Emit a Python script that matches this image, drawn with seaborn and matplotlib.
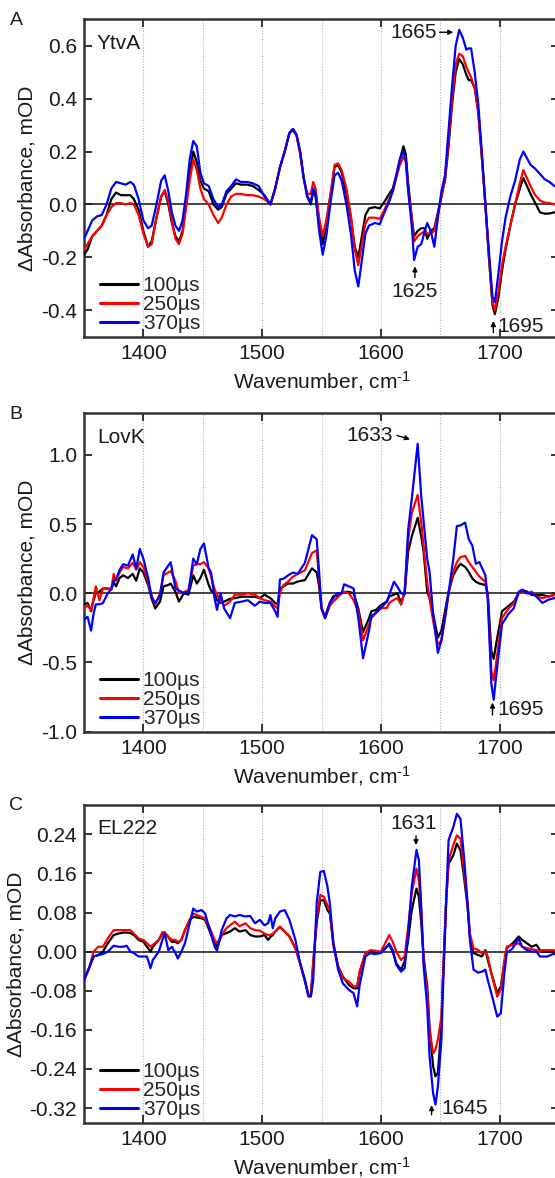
import numpy as np
import pandas as pd
import matplotlib
matplotlib.use("Agg")
import matplotlib.pyplot as plt
import seaborn as sns

# ---------------- data ----------------
delays = ["100µs", "250µs", "370µs"]
colors = ["black", "red", "blue"]

# Panel A: YtvA
wn_a = [1350, 1353, 1357, 1361, 1365, 1369, 1373, 1377, 1381, 1385, 1389, 1392, 1396, 1400,
        1404, 1407, 1411, 1415, 1418, 1421, 1424, 1427, 1430, 1433, 1436, 1439, 1442, 1445,
        1448, 1451, 1455, 1459, 1463, 1466, 1470, 1474, 1478, 1482, 1487, 1492, 1497, 1502,
        1507, 1511, 1515, 1519, 1523, 1526, 1529, 1532, 1535, 1538, 1541, 1543, 1545, 1548,
        1551, 1554, 1558, 1561, 1564, 1567, 1571, 1575, 1578, 1581, 1584, 1587, 1590, 1595,
        1599, 1603, 1607, 1610, 1613, 1616, 1619, 1621, 1623, 1626, 1628, 1631, 1634, 1637,
        1639, 1642, 1645, 1648, 1651, 1654, 1657, 1660, 1663, 1666, 1669, 1672, 1674, 1676,
        1679, 1682, 1685, 1688, 1691, 1694, 1696, 1699, 1702, 1705, 1709, 1713, 1717, 1720,
        1723, 1726, 1730, 1734, 1738, 1742, 1746, 1750]
a_100 = [-0.19, -0.17, -0.12, -0.10, -0.08, -0.04, 0.02, 0.045, 0.035, 0.035, 0.035, 0.02, -0.02, -0.10,
         -0.16, -0.14, -0.05, 0.03, 0.05, 0.0, -0.07, -0.12, -0.14, -0.10, 0.0, 0.12, 0.20, 0.16,
         0.09, 0.06, 0.05, 0.0, -0.02, -0.01, 0.04, 0.06, 0.08, 0.075, 0.075, 0.07, 0.055, 0.035,
         0.0, 0.06, 0.14, 0.20, 0.27, 0.285, 0.26, 0.20, 0.10, 0.03, 0.0, 0.05, 0.03, -0.08,
         -0.15, -0.08, 0.05, 0.14, 0.15, 0.12, 0.04, -0.06, -0.16, -0.20, -0.12, -0.04, -0.015, -0.01,
         -0.015, 0.01, 0.04, 0.06, 0.11, 0.17, 0.22, 0.19, 0.08, -0.05, -0.12, -0.10, -0.09, -0.09,
         -0.13, -0.10, -0.09, -0.03, 0.03, 0.09, 0.22, 0.38, 0.50, 0.55, 0.53, 0.49, 0.47, 0.47,
         0.44, 0.35, 0.18, 0.0, -0.20, -0.38, -0.415, -0.35, -0.25, -0.17, -0.08, 0.0, 0.06, 0.10,
         0.07, 0.04, 0.005, -0.03, -0.035, -0.034, -0.03, -0.025]
a_250 = [-0.17, -0.15, -0.12, -0.10, -0.08, -0.04, -0.01, 0.005, 0.005, 0.0, 0.005, 0.0, -0.04, -0.11,
         -0.16, -0.15, -0.05, 0.03, 0.055, 0.01, -0.06, -0.13, -0.15, -0.11, -0.01, 0.09, 0.17, 0.13,
         0.06, 0.02, 0.0, -0.04, -0.07, -0.05, 0.0, 0.03, 0.04, 0.04, 0.035, 0.035, 0.03, 0.02,
         0.0, 0.06, 0.14, 0.20, 0.27, 0.28, 0.26, 0.19, 0.10, 0.04, 0.04, 0.085, 0.06, -0.05,
         -0.12, -0.06, 0.05, 0.15, 0.155, 0.13, 0.06, -0.05, -0.17, -0.23, -0.15, -0.07, -0.05, -0.05,
         -0.055, -0.02, 0.02, 0.05, 0.10, 0.15, 0.18, 0.16, 0.06, -0.05, -0.14, -0.12, -0.11, -0.10,
         -0.11, -0.11, -0.10, -0.04, 0.03, 0.10, 0.24, 0.40, 0.53, 0.57, 0.56, 0.52, 0.50, 0.48,
         0.44, 0.35, 0.18, 0.0, -0.20, -0.37, -0.40, -0.33, -0.23, -0.16, -0.08, 0.0, 0.08, 0.13,
         0.10, 0.07, 0.035, 0.015, 0.007, 0.005, 0.0, 0.0]
a_370 = [-0.13, -0.10, -0.06, -0.045, -0.04, 0.0, 0.06, 0.085, 0.08, 0.075, 0.085, 0.075, 0.02, -0.06,
         -0.09, -0.08, 0.0, 0.09, 0.11, 0.05, -0.03, -0.08, -0.10, -0.06, 0.04, 0.17, 0.24, 0.22,
         0.12, 0.08, 0.07, 0.02, -0.01, 0.0, 0.05, 0.07, 0.095, 0.085, 0.085, 0.08, 0.07, 0.03,
         0.0, 0.06, 0.14, 0.20, 0.27, 0.285, 0.265, 0.20, 0.10, 0.03, 0.01, 0.06, 0.04, -0.10,
         -0.19, -0.12, 0.02, 0.11, 0.12, 0.09, 0.0, -0.12, -0.25, -0.31, -0.21, -0.11, -0.08, -0.07,
         -0.075, -0.03, 0.01, 0.05, 0.11, 0.17, 0.20, 0.17, 0.05, -0.08, -0.21, -0.16, -0.15, -0.10,
         -0.07, -0.10, -0.16, -0.05, 0.05, 0.11, 0.28, 0.45, 0.60, 0.66, 0.63, 0.585, 0.59, 0.59,
         0.50, 0.38, 0.20, 0.0, -0.18, -0.35, -0.37, -0.26, -0.14, -0.05, 0.03, 0.09, 0.17, 0.20,
         0.175, 0.15, 0.135, 0.115, 0.095, 0.085, 0.07, 0.06]

# Panel B: LovK
wn_b = [1350, 1353, 1356, 1358, 1360, 1363, 1366, 1370, 1373, 1375, 1377, 1380, 1383, 1387,
        1391, 1394, 1397, 1400, 1404, 1407, 1410, 1414, 1417, 1421, 1423, 1427, 1430, 1434,
        1438, 1442, 1445, 1448, 1451, 1455, 1457, 1460, 1462, 1465, 1468, 1473, 1477, 1483,
        1488, 1494, 1498, 1502, 1507, 1511, 1513, 1515, 1518, 1522, 1526, 1530, 1536, 1542,
        1546, 1548, 1550, 1553, 1557, 1560, 1563, 1567, 1569, 1573, 1577, 1581, 1585, 1590,
        1592, 1596, 1600, 1605, 1607, 1611, 1614, 1617, 1620, 1623, 1626, 1631, 1634, 1636,
        1639, 1641, 1644, 1648, 1651, 1654, 1657, 1661, 1664, 1667, 1671, 1674, 1677, 1680,
        1683, 1688, 1690, 1693, 1695, 1697, 1702, 1707, 1712, 1716, 1719, 1723, 1727, 1731,
        1736, 1741, 1746, 1750]
b_100 = [-0.08, -0.07, -0.13, -0.05, 0.0, 0.01, 0.035, 0.035, 0.03, 0.08, 0.05, 0.11, 0.13, 0.11,
         0.14, 0.09, 0.18, 0.15, 0.06, -0.04, -0.11, -0.06, 0.05, 0.06, 0.07, 0.01, -0.06, 0.0,
         -0.01, 0.13, 0.07, 0.11, 0.17, 0.06, 0.02, 0.0, -0.05, -0.07, -0.06, -0.04, -0.035, -0.025,
         -0.025, -0.025, -0.035, -0.01, -0.035, -0.07, -0.08, 0.035, 0.05, 0.07, 0.07, 0.085, 0.095, 0.18,
         0.15, 0.05, -0.11, -0.17, -0.07, -0.02, -0.02, 0.0, 0.01, 0.01, 0.0, -0.11, -0.28, -0.18,
         -0.13, -0.12, -0.085, -0.06, -0.024, -0.01, 0.0, -0.07, 0.0, 0.30, 0.41, 0.545, 0.41, 0.30,
         0.01, -0.035, -0.15, -0.32, -0.27, -0.13, 0.01, 0.13, 0.178, 0.213, 0.19, 0.154, 0.107, 0.083,
         0.07, 0.06, 0.0, -0.415, -0.474, -0.37, -0.13, -0.095, -0.06, 0.0, 0.024, 0.012, -0.012, -0.012,
         -0.012, -0.024, -0.012, -0.01]
b_250 = [-0.11, -0.09, -0.12, -0.04, 0.05, -0.05, 0.035, 0.03, 0.03, 0.14, 0.09, 0.15, 0.19, 0.18,
         0.22, 0.17, 0.225, 0.19, 0.08, -0.02, -0.08, 0.0, 0.13, 0.15, 0.16, 0.09, 0.0, 0.01,
         0.02, 0.20, 0.21, 0.21, 0.225, 0.18, 0.12, 0.03, -0.01, -0.05, -0.09, -0.06, -0.01, -0.01,
         0.0, -0.01, -0.035, -0.05, -0.06, -0.095, -0.11, 0.0, 0.06, 0.085, 0.12, 0.14, 0.165, 0.29,
         0.31, 0.10, -0.10, -0.18, -0.09, -0.06, -0.035, 0.0, 0.01, 0.0, -0.05, -0.13, -0.34, -0.225,
         -0.18, -0.14, -0.107, -0.107, -0.07, -0.047, -0.035, -0.083, 0.012, 0.39, 0.58, 0.71, 0.51, 0.34,
         0.08, -0.035, -0.20, -0.37, -0.34, -0.178, 0.0, 0.154, 0.225, 0.26, 0.27, 0.225, 0.19, 0.154,
         0.12, 0.083, -0.02, -0.557, -0.628, -0.51, -0.178, -0.118, -0.07, 0.0, 0.024, 0.0, 0.012, -0.024,
         -0.035, -0.024, -0.012, -0.01]
b_370 = [-0.19, -0.17, -0.27, -0.15, -0.08, -0.08, -0.07, 0.0, 0.03, 0.09, 0.10, 0.17, 0.21, 0.20,
         0.28, 0.18, 0.32, 0.25, 0.11, -0.03, -0.07, -0.02, 0.15, 0.20, 0.225, 0.035, 0.02, 0.0,
         0.01, 0.25, 0.21, 0.32, 0.36, 0.18, 0.15, -0.04, -0.12, 0.0, -0.11, -0.18, -0.07, -0.06,
         -0.05, -0.09, -0.06, -0.07, -0.07, -0.13, -0.17, 0.10, 0.105, 0.13, 0.15, 0.14, 0.22, 0.42,
         0.39, 0.15, -0.11, -0.18, -0.07, -0.035, 0.0, 0.0, 0.065, 0.05, 0.035, -0.18, -0.47, -0.27,
         -0.165, -0.14, -0.107, -0.06, -0.012, 0.083, 0.047, 0.0, -0.007, 0.46, 0.68, 1.08, 0.70, 0.52,
         0.25, 0.154, -0.15, -0.43, -0.34, -0.178, 0.0, 0.25, 0.485, 0.49, 0.51, 0.39, 0.345, 0.213,
         0.225, 0.13, -0.04, -0.65, -0.77, -0.605, -0.225, -0.154, -0.107, 0.012, 0.024, 0.0, 0.0, -0.024,
         -0.07, -0.047, -0.035, -0.03]

# Panel C: EL222
wn_c = [1350, 1354, 1358, 1362, 1366, 1370, 1375, 1379, 1383, 1386, 1389, 1392, 1396, 1400,
        1403, 1406, 1408, 1413, 1416, 1418, 1421, 1424, 1427, 1429, 1432, 1435, 1439, 1442,
        1445, 1449, 1452, 1456, 1460, 1462, 1466, 1470, 1473, 1477, 1481, 1486, 1490, 1494,
        1498, 1502, 1505, 1507, 1509, 1511, 1515, 1519, 1523, 1528, 1532, 1536, 1539, 1541,
        1543, 1546, 1549, 1552, 1555, 1557, 1560, 1564, 1568, 1573, 1577, 1580, 1582, 1587,
        1591, 1595, 1600, 1605, 1607, 1610, 1613, 1617, 1620, 1623, 1626, 1630, 1632, 1634,
        1636, 1639, 1641, 1644, 1646, 1648, 1651, 1652, 1655, 1657, 1661, 1664, 1667, 1670,
        1673, 1675, 1678, 1682, 1685, 1688, 1690, 1693, 1698, 1701, 1704, 1706, 1711, 1716,
        1719, 1723, 1727, 1731, 1734, 1736, 1740, 1745, 1750]
c_100 = [-0.058, -0.035, -0.01, -0.007, 0.0, 0.017, 0.034, 0.037, 0.039, 0.039, 0.038, 0.034, 0.024, 0.02,
         0.01, 0.0, 0.01, 0.024, 0.037, 0.039, 0.03, 0.02, 0.02, 0.017, 0.024, 0.044, 0.065, 0.071,
         0.07, 0.068, 0.065, 0.041, 0.017, 0.01, 0.034, 0.038, 0.041, 0.048, 0.041, 0.044, 0.034, 0.031,
         0.031, 0.034, 0.024, 0.03, 0.034, 0.041, 0.051, 0.041, 0.031, 0.007, -0.024, -0.058, -0.089, -0.09,
         -0.024, 0.06, 0.105, 0.105, 0.085, 0.078, 0.017, -0.03, -0.051, -0.068, -0.075, -0.075, -0.044, -0.003,
         0.0, -0.003, -0.002, 0.01, 0.014, 0.0, -0.024, -0.037, -0.02, 0.024, 0.085, 0.129, 0.112, 0.058,
         -0.01, -0.071, -0.153, -0.235, -0.255, -0.248, -0.153, -0.071, 0.105, 0.18, 0.197, 0.221, 0.207, 0.153,
         0.092, 0.031, -0.003, -0.007, -0.01, 0.003, -0.017, -0.044, -0.085, -0.071, -0.024, 0.007, 0.017, 0.031,
         0.024, 0.017, 0.01, 0.014, 0.003, 0.0, 0.0, 0.0, 0.0]
c_250 = [-0.058, -0.037, 0.0, 0.01, 0.01, 0.027, 0.044, 0.044, 0.044, 0.044, 0.044, 0.037, 0.027, 0.024,
         0.017, 0.01, 0.014, 0.024, 0.04, 0.039, 0.03, 0.024, 0.024, 0.02, 0.024, 0.044, 0.065, 0.078,
         0.075, 0.071, 0.068, 0.048, 0.024, 0.017, 0.034, 0.048, 0.054, 0.061, 0.052, 0.058, 0.048, 0.044,
         0.043, 0.037, 0.034, 0.034, 0.037, 0.041, 0.051, 0.041, 0.031, 0.007, -0.024, -0.061, -0.089, -0.09,
         -0.024, 0.07, 0.116, 0.112, 0.095, 0.085, 0.01, -0.03, -0.054, -0.061, -0.071, -0.071, -0.041, -0.003,
         0.003, 0.002, 0.0, 0.024, 0.034, 0.02, 0.0, -0.017, -0.01, 0.051, 0.12, 0.17, 0.146, 0.085,
         -0.017, -0.085, -0.16, -0.208, -0.20, -0.18, -0.133, -0.071, 0.105, 0.187, 0.218, 0.238, 0.231, 0.167,
         0.099, 0.037, 0.007, 0.003, -0.003, 0.0, -0.01, -0.044, -0.092, -0.078, -0.017, 0.01, 0.014, 0.017,
         0.01, 0.007, 0.005, 0.003, 0.0, 0.003, 0.003, 0.003, 0.0]
c_370 = [-0.058, -0.035, -0.01, -0.007, -0.005, 0.0, 0.012, 0.01, 0.01, 0.012, 0.0, -0.003, -0.01, -0.01,
         -0.01, -0.034, -0.017, 0.0, 0.024, 0.037, 0.003, 0.01, -0.003, -0.014, 0.0, 0.017, 0.058, 0.088,
         0.082, 0.085, 0.078, 0.044, 0.01, 0.002, 0.044, 0.068, 0.075, 0.072, 0.075, 0.072, 0.073, 0.058,
         0.065, 0.054, 0.058, 0.075, 0.048, 0.068, 0.082, 0.085, 0.065, 0.024, -0.024, -0.058, -0.092, -0.092,
         -0.06, 0.10, 0.163, 0.165, 0.133, 0.099, 0.017, -0.037, -0.065, -0.078, -0.085, -0.112, -0.07, -0.01,
         -0.003, -0.005, -0.003, 0.01, 0.017, 0.003, -0.027, -0.041, -0.034, 0.037, 0.133, 0.208, 0.187, 0.092,
         -0.03, -0.112, -0.214, -0.29, -0.313, -0.276, -0.18, -0.099, 0.105, 0.228, 0.255, 0.282, 0.272, 0.194,
         0.099, 0.024, -0.037, -0.043, -0.041, -0.037, -0.058, -0.085, -0.133, -0.126, -0.044, -0.003, 0.007, 0.027,
         0.01, 0.003, 0.0, 0.0, -0.01, -0.01, -0.01, -0.005, -0.003]

panel_names = ["YtvA", "LovK", "EL222"]
panel_letters = ["A", "B", "C"]
ylims = [(-0.5, 0.7), (-1.0, 1.3), (-0.35, 0.30)]
yticks = [[-0.4, -0.2, 0.0, 0.2, 0.4, 0.6],
          [-1.0, -0.5, 0.0, 0.5, 1.0],
          [-0.32, -0.24, -0.16, -0.08, 0.0, 0.08, 0.16, 0.24]]
yfmt = ["{:.1f}", "{:.1f}", "{:.2f}"]
xticks = [1400, 1500, 1600, 1700]
gridx = [1400, 1450, 1500, 1550, 1600, 1650, 1700]

# ---------------- style ----------------
sns.set_style("ticks")
plt.rcParams["font.family"] = ["Liberation Sans", "DejaVu Sans"]
plt.rcParams["axes.unicode_minus"] = False
plt.rcParams["mathtext.fontset"] = "custom"
plt.rcParams["mathtext.rm"] = "Liberation Sans"
plt.rcParams["mathtext.it"] = "Liberation Sans:italic"

FS = 15
SPINE = "#333333"
TXT = "#1a1a1a"

fig = plt.figure(figsize=(5.55, 11.78), dpi=100)
W, H = 555.0, 1178.0
left_px, right_px = 84.0, 559.0
tops = [19.3, 413.3, 805.0]
bots = [336.7, 731.7, 1122.7]

panels = [
    (wn_a, [a_100, a_250, a_370]),
    (wn_b, [b_100, b_250, b_370]),
    (wn_c, [c_100, c_250, c_370]),
]

xlabel_text = "Wavenumber, cm$^{\\text{-1}}$"

axes = []
for i, (wn, series) in enumerate(panels):
    ax = fig.add_axes([left_px / W, 1 - bots[i] / H, (right_px - left_px) / W, (bots[i] - tops[i]) / H])
    axes.append(ax)
    rows = []
    for d, vals in zip(delays, series):
        for x, v in zip(wn, vals):
            rows.append((x, v, d))
    df = pd.DataFrame(rows, columns=["wn", "val", "delay"])
    for gx in gridx:
        ax.axvline(gx, color="#b0b0b0", lw=0.8, ls=(0, (1, 1.5)), zorder=0)
    ax.axhline(0, color="#222222", lw=1.2, zorder=1)
    sns.lineplot(data=df, x="wn", y="val", hue="delay", palette=colors, hue_order=delays,
                 estimator=None, sort=False, lw=1.6, ax=ax, legend=False, zorder=3)
    ax.set_xlim(1350, 1750)
    ax.set_ylim(*ylims[i])
    ax.set_xticks(xticks)
    ax.set_xticklabels([str(t) for t in xticks])
    ax.set_yticks(yticks[i])
    ax.set_yticklabels([yfmt[i].format(t) for t in yticks[i]])
    ax.tick_params(direction="in", length=6, width=1.4, colors=SPINE, labelcolor=TXT,
                   labelsize=FS, top=True, right=True, pad=5)
    for s in ax.spines.values():
        s.set_color(SPINE)
        s.set_linewidth(1.8)
    ax.set_xlabel(xlabel_text, fontsize=FS, color=TXT, labelpad=5)
    ax.set_ylabel("ΔAbsorbance, mOD", fontsize=FS, color=TXT, labelpad=3)
    ax.text(0.027, 0.925, panel_names[i], transform=ax.transAxes, fontsize=FS,
            va="center", ha="left", color=TXT)
    fig.text(16 / W, 1 - (tops[i] + 1) / H, panel_letters[i], fontsize=14,
             ha="center", va="center", color=TXT)
    handles = [plt.Line2D([], [], color=c, lw=2.2) for c in colors]
    ax.legend(handles, delays, loc="lower left", bbox_to_anchor=(0.034, 0.012), frameon=False,
              fontsize=FS, handlelength=1.8, handletextpad=0.25, labelspacing=0.0,
              borderaxespad=0.0, borderpad=0.0)

ap = dict(arrowstyle="-|>", color="black", lw=1.0, mutation_scale=7, shrinkA=0, shrinkB=0)
axA, axB, axC = axes
# Panel A annotations
axA.text(1647, 0.651, "1665", fontsize=FS, ha="right", va="center", color=TXT)
axA.annotate("", xy=(1661, 0.651), xytext=(1649.5, 0.651), arrowprops=ap)
axA.annotate("", xy=(1628.7, -0.234), xytext=(1628.7, -0.276), arrowprops=ap)
axA.text(1628, -0.33, "1625", fontsize=FS, ha="center", va="center", color=TXT)
axA.annotate("", xy=(1694.7, -0.441), xytext=(1694.7, -0.485), arrowprops=ap)
axA.text(1698.5, -0.46, "1695", fontsize=FS, ha="left", va="center", color=TXT)
# Panel B annotations
axB.text(1610.2, 1.143, "1633", fontsize=FS, ha="right", va="center", color=TXT)
axB.annotate("", xy=(1624.5, 1.112), xytext=(1613.5, 1.14), arrowprops=ap)
axB.annotate("", xy=(1694, -0.79), xytext=(1694, -0.88), arrowprops=ap)
axB.text(1698.5, -0.837, "1695", fontsize=FS, ha="left", va="center", color=TXT)
# Panel C annotations
axC.text(1627.3, 0.2626, "1631", fontsize=FS, ha="center", va="center", color=TXT)
axC.annotate("", xy=(1629.6, 0.218), xytext=(1629.6, 0.237), arrowprops=ap)
axC.annotate("", xy=(1642.7, -0.314), xytext=(1642.7, -0.334), arrowprops=ap)
axC.text(1651.2, -0.3205, "1645", fontsize=FS, ha="left", va="center", color=TXT)

fig.savefig("out.png", dpi=100)
